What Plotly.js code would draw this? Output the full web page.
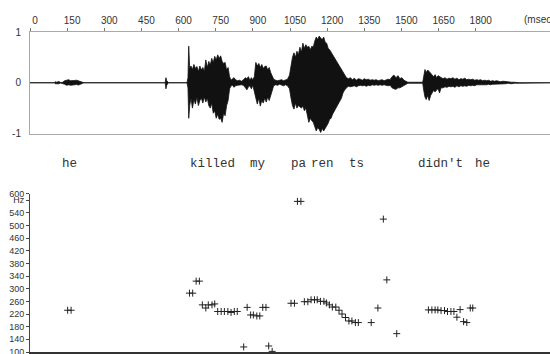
<!DOCTYPE html>
<html>
<head>
<meta charset="utf-8">
<script src="https://cdn.plot.ly/plotly-3.0.1.min.js"></script>
<style>html,body{margin:0;padding:0;background:#fff;}#chart{width:550px;height:354px;}</style>
</head>
<body>
<div id="chart"></div>
<script>
// Waveform envelope (ms, upper, lower)
const wave_t = [0,98,102,108,116,124,132,140,148,156,164,172,180,188,196,204,212,218,
546,549,552,556,560,634,638,641,645,650,656,662,668,674,680,686,692,698,704,710,716,722,728,734,740,746,752,758,764,770,776,782,788,794,800,806,812,818,824,830,838,846,854,862,870,876,882,888,894,900,906,
912,918,924,930,936,942,948,954,960,966,972,978,984,992,1000,1008,1016,1024,1032,1040,1048,1054,1060,1066,1072,1078,1084,1090,1096,1102,1108,1114,1120,1126,1132,1138,1144,1150,1156,1162,1168,1174,1180,1186,1192,1198,1204,1210,1216,1222,1228,1234,1240,1246,1252,1258,1264,1270,1278,
1286,1294,1302,1310,1318,1326,1334,1342,1350,1358,1366,1374,1382,1390,1398,1406,1414,1422,1430,1438,1446,1454,1462,1470,1478,1486,1494,1502,1510,1518,1526,1586,1590,1595,1600,1606,1612,1618,1624,1630,1636,1642,1648,1654,1660,
1668,1676,1684,1692,1700,1708,1716,1724,1732,1740,1748,1756,1764,1772,1780,1788,1796,1804,1812,1820,1828,1836,1844,1852,1860,1868,1876,1884,1892,1900,1910,1920,1932,1944,1956,1968,1975,2100];
const wave_hi = [0,0,0.02,0.01,0.025,0.005,0.01,0.04,0.05,0.06,0.04,0.05,0.045,0.05,0.04,0.03,0.01,0,
0,0.1,0.04,0.02,0,0,0.1,0.72,0.28,0.33,0.26,0.36,0.28,0.32,0.22,0.33,0.25,0.3,0.22,0.45,0.3,0.42,0.35,0.48,0.4,0.52,0.45,0.55,0.48,0.53,0.42,0.38,0.4,0.25,0.3,0.12,0.05,0.08,0.1,0.06,0.04,0.05,0.03,0.06,0.1,0.08,0.12,0.05,0.1,0.06,0.12,
0.4,0.33,0.38,0.3,0.36,0.28,0.32,0.33,0.25,0.3,0.2,0.12,0.07,0.05,0.04,0.05,0.06,0.04,0.05,0.07,0.15,0.35,0.5,0.59,0.5,0.62,0.55,0.7,0.6,0.78,0.68,0.75,0.7,0.72,0.65,0.72,0.7,0.82,0.9,0.85,0.92,0.88,0.85,0.9,0.8,0.78,0.68,0.65,0.6,0.55,0.5,0.45,0.42,0.35,0.32,0.25,0.2,0.14,0.1,
0.08,0.1,0.06,0.09,0.05,0.08,0.07,0.05,0.08,0.06,0.07,0.05,0.06,0.05,0.06,0.04,0.05,0.06,0.04,0.05,0.07,0.06,0.12,0.15,0.1,0.14,0.08,0.1,0.05,0.03,0.01,0.01,0.1,0.26,0.2,0.25,0.22,0.18,0.16,0.12,0.16,0.1,0.14,0.12,0.1,
0.08,0.1,0.07,0.09,0.08,0.1,0.07,0.09,0.06,0.08,0.07,0.09,0.06,0.07,0.06,0.07,0.05,0.06,0.05,0.06,0.04,0.05,0.04,0.05,0.03,0.04,0.03,0.04,0.03,0.02,0.03,0.02,0.02,0.01,0.01,0.005,0,0];
const wave_lo = [0,0,-0.02,-0.015,-0.02,-0.005,-0.01,-0.03,-0.05,-0.04,-0.05,-0.045,-0.04,-0.035,-0.045,-0.03,-0.01,0,
0,-0.12,-0.05,-0.02,0,0,-0.1,-0.7,-0.45,-0.3,-0.5,-0.33,-0.42,-0.28,-0.45,-0.35,-0.3,-0.4,-0.28,-0.38,-0.3,-0.45,-0.5,-0.4,-0.6,-0.55,-0.7,-0.62,-0.72,-0.7,-0.78,-0.6,-0.65,-0.45,-0.35,-0.12,-0.06,-0.05,-0.09,-0.06,-0.05,-0.04,-0.04,-0.05,-0.1,-0.14,-0.08,-0.06,-0.12,-0.05,-0.15,
-0.3,-0.42,-0.3,-0.46,-0.35,-0.4,-0.3,-0.38,-0.28,-0.35,-0.22,-0.15,-0.06,-0.04,-0.05,-0.03,-0.05,-0.06,-0.04,-0.06,-0.12,-0.3,-0.45,-0.52,-0.4,-0.5,-0.45,-0.48,-0.5,-0.46,-0.55,-0.5,-0.6,-0.78,-0.7,-0.75,-0.78,-0.85,-0.95,-0.88,-0.92,-0.98,-0.9,-0.95,-0.92,-0.85,-0.8,-0.72,-0.7,-0.62,-0.55,-0.5,-0.45,-0.4,-0.35,-0.3,-0.2,-0.15,-0.1,
-0.07,-0.08,-0.07,-0.06,-0.08,-0.06,-0.05,-0.06,-0.05,-0.07,-0.05,-0.06,-0.04,-0.05,-0.04,-0.05,-0.04,-0.05,-0.04,-0.05,-0.06,-0.05,-0.1,-0.12,-0.13,-0.1,-0.1,-0.08,-0.06,-0.03,-0.01,-0.01,-0.15,-0.28,-0.33,-0.25,-0.35,-0.25,-0.2,-0.15,-0.18,-0.14,-0.12,-0.2,-0.1,
-0.1,-0.08,-0.09,-0.07,-0.08,-0.07,-0.09,-0.06,-0.08,-0.06,-0.07,-0.06,-0.07,-0.05,-0.06,-0.05,-0.06,-0.04,-0.05,-0.04,-0.05,-0.04,-0.04,-0.03,-0.04,-0.03,-0.03,-0.02,-0.03,-0.03,-0.02,-0.02,-0.01,-0.02,-0.01,-0.005,0,0];

// Pitch track (ms, Hz)
const pitch_t = [152,166,644,657,671,684,696,710,720,735,746,758,772,785,799,812,825,837,863,877,891,902,916,928,940,953,964,978,
1054,1068,1080,1094,1108,1122,1135,1149,1160,1173,1187,1197,1209,1221,1235,1248,1260,1274,1288,1300,1314,1326,1378,1405,1427,1441,1481,
1609,1623,1636,1647,1660,1674,1686,1700,1712,1724,1737,1751,1764,1778,1788];
const pitch_hz = [232,232,286,286,324,324,249,239,249,249,252,228,228,228,228,225,228,228,116,241,217,217,214,214,241,241,119,102,
254,254,576,576,259,259,265,265,265,260,260,255,249,242,242,232,220,209,198,198,193,193,193,239,520,328,158,
233,233,233,233,231,231,228,228,228,210,234,196,193,239,239];

// Word labels (text, centre time ms)
const words = ["he","killed","my","pa","ren","ts","didn't","he"];
const word_t = [158,735,921,1085,1180,1317,1656,1826];

// Tick labels
const time_ticks = [0,150,300,450,600,750,900,1050,1200,1350,1500,1650,1800];
const amp_ticks = [-1,0,1];
const hz_ticks = [100,140,180,220,260,300,340,380,420,460,500,540,580,600];
const hz_text = ["100","140","180","220","260","300","340","380","420","460","500","540","Hz","600"];

const polyX = wave_t.concat(wave_t.slice().reverse());
const polyY = wave_hi.concat(wave_lo.slice().reverse());

const traces = [
  {type:'scatter', mode:'lines', x:polyX, y:polyY, xaxis:'x', yaxis:'y',
   fill:'toself', fillcolor:'#111', line:{color:'#111', width:0.8}, hoverinfo:'skip'},
  {type:'scatter', mode:'markers', x:pitch_t, y:pitch_hz, xaxis:'x2', yaxis:'y2',
   marker:{symbol:'cross-thin', size:5, line:{color:'#222', width:1}, color:'#222'}}
];

const tickFont = {family:'Liberation Sans, Arial, sans-serif', size:10, color:'#333'};

const H = 354, T = 32, B = 2, PH = H - T - B;
const layout = {
  width:550, height:354,
  margin:{l:30, r:0, t:T, b:B},
  paper_bgcolor:'#fff', plot_bgcolor:'#fff',
  showlegend:false,
  xaxis:{domain:[0,1], range:[0,2100], side:'top', anchor:'y',
    tickmode:'array', tickvals:time_ticks, ticktext:time_ticks.map(String),
    ticks:'outside', ticklen:3, tickcolor:'#777', ticklabelshift:5, ticklabeloverflow:'allow',
    tickfont:tickFont, showline:true, mirror:true, linecolor:'#aaa', linewidth:1,
    showgrid:false, zeroline:false, fixedrange:true},
  yaxis:{domain:[(352-133.5)/PH, 1], range:[-1,1], anchor:'x',
    tickmode:'array', tickvals:amp_ticks, ticktext:amp_ticks.map(String),
    ticks:'', ticklabelstandoff:6, tickfont:tickFont, ticklabeloverflow:'allow',
    showline:true, linecolor:'#aaa', linewidth:1, showgrid:false, zeroline:false},
  xaxis2:{domain:[0,1], range:[0,2100], anchor:'y2', showticklabels:false, ticks:'',
    showline:true, linecolor:'#333', linewidth:2, showgrid:false, zeroline:false},
  yaxis2:{domain:[0,(352-193.8)/PH], range:[100,600], anchor:'x2',
    tickmode:'array', tickvals:hz_ticks, ticktext:hz_text,
    ticks:'outside', ticklen:3, tickcolor:'#444', ticklabeloverflow:'allow',
    tickfont:{family:'Liberation Sans, Arial, sans-serif', size:9, color:'#333'},
    showline:true, linecolor:'#444', linewidth:1, showgrid:false, zeroline:false},
  annotations: words.map((w,i)=>({text:w, x:word_t[i], xref:'x', y:(352-164)/PH, yref:'paper',
      showarrow:false, xanchor:'center', yanchor:'middle',
      font:{family:'Liberation Mono, DejaVu Sans Mono, monospace', size:12.5, color:'#333'}}))
    .concat([{text:'(msec', x:(522-30)/520, xref:'paper', xanchor:'left', y:(352-19)/PH, yref:'paper',
      yanchor:'middle', showarrow:false, font:tickFont}])
};

Plotly.newPlot('chart', traces, layout, {displayModeBar:false, staticPlot:true});
</script>
</body>
</html>
